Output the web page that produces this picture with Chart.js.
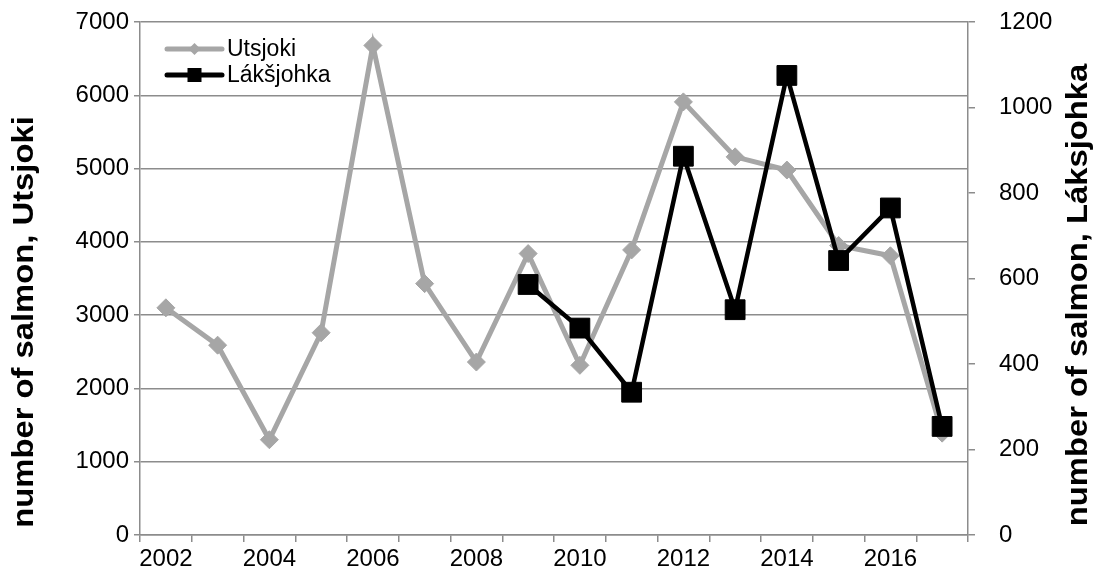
<!DOCTYPE html>
<html lang="en">
<head>
  <meta charset="UTF-8">
  <title>Salmon counts</title>
  <script src="https://cdn.jsdelivr.net/npm/chart.js"></script>
  <style>
    body { margin: 0; background: #fff; }
    #wrap { position: relative; width: 1093px; height: 580px; }
  </style>
</head>
<body>
  <div id="wrap"><canvas id="chartSalmon" width="1093" height="580"></canvas></div>

<script>
  // dados
  var anos = ["2002", "2003", "2004", "2005", "2006", "2007", "2008", "2009",
    "2010", "2011", "2012", "2013", "2014", "2015", "2016", "2017"];
  var utsjoki = [3100, 2590, 1300, 2760, 6680, 3430, 2360, 3840,
    2315, 3890, 5910, 5160, 4980, 3950, 3810, 1390];
  var laksjohka = [null, null, null, null, null, null, null, 586,
    484, 334, 886, 527, 1075, 642, 765, 254];

  var nomeUtsjoki = "Utsjoki";
  var nomeLaksjohka = "Lákšjohka";
  var tituloEsq = "number of salmon, Utsjoki";
  var tituloDir = "number of salmon, Láksjohka";

  var cinza = "#a6a6a6";
  var linhaGrade = "#8c8c8c";
  var fonte = "'Liberation Sans', Arial, sans-serif";

  // legenda dentro da área do gráfico, com linha e marcador
  var legendaInterna = {
    id: "legendaInterna",
    afterDraw: function (chart) {
      var ctx = chart.ctx;
      var area = chart.chartArea;
      var itens = [
        { texto: nomeUtsjoki, cor: cinza, marca: "losango", y: area.top + 27 },
        { texto: nomeLaksjohka, cor: "#000", marca: "quadrado", y: area.top + 53 }
      ];
      ctx.save();
      itens.forEach(function (item) {
        var x0 = area.left + 27;
        var x1 = x0 + 55;
        ctx.strokeStyle = item.cor;
        ctx.lineWidth = 5;
        ctx.lineCap = "round";
        ctx.beginPath();
        ctx.moveTo(x0, item.y);
        ctx.lineTo(x1, item.y);
        ctx.stroke();
        var xm = (x0 + x1) / 2;
        ctx.fillStyle = item.cor;
        if (item.marca == "losango") {
          ctx.beginPath();
          ctx.moveTo(xm, item.y - 6);
          ctx.lineTo(xm + 6, item.y);
          ctx.lineTo(xm, item.y + 6);
          ctx.lineTo(xm - 6, item.y);
          ctx.closePath();
          ctx.fill();
        } else {
          ctx.fillRect(xm - 7, item.y - 7, 14, 14);
        }
        ctx.fillStyle = "#000";
        ctx.font = "23px " + fonte;
        ctx.textAlign = "left";
        ctx.textBaseline = "middle";
        ctx.fillText(item.texto, x1 + 5, item.y + 1);
      });
      ctx.restore();
    }
  };

  // títulos dos eixos, ambos lidos de baixo para cima
  var titulosEixos = {
    id: "titulosEixos",
    afterDraw: function (chart) {
      var ctx = chart.ctx;
      var titulos = [
        { texto: tituloEsq, x: 25, y: 322 },
        { texto: tituloDir, x: 1079, y: 295 }
      ];
      ctx.save();
      ctx.font = "bold 29px " + fonte;
      ctx.fillStyle = "#000";
      ctx.textAlign = "center";
      ctx.textBaseline = "middle";
      titulos.forEach(function (t) {
        ctx.save();
        ctx.translate(t.x, t.y);
        ctx.rotate(-Math.PI / 2);
        ctx.scale(1.13, 1); // o texto original é um pouco esticado
        ctx.fillText(t.texto, 0, 0);
        ctx.restore();
      });
      ctx.restore();
    }
  };

  function semSeparador(valor) {
    return String(valor);
  }

  // largura fixa e sem folga extra em cima/baixo
  function ajustarEixo(largura) {
    return function (escala) {
      escala.width = largura;
      escala.paddingTop = 0;
      escala.paddingBottom = 0;
    };
  }

  var canva = document.getElementById("chartSalmon");
  var grafico = new Chart(canva, {
    type: "line",
    data: {
      labels: anos,
      datasets: [{
        label: nomeUtsjoki,
        data: utsjoki,
        yAxisID: "y",
        borderColor: cinza,
        backgroundColor: cinza,
        borderWidth: 5,
        pointStyle: "rectRot",
        pointRadius: 9,
        pointBorderWidth: 1,
        tension: 0,
        order: 2
      },
      {
        label: nomeLaksjohka,
        data: laksjohka,
        yAxisID: "y1",
        borderColor: "#000",
        backgroundColor: "#000",
        borderWidth: 4.5,
        pointStyle: "rect",
        pointRadius: 14,
        pointBorderWidth: 1,
        tension: 0,
        order: 1
      }]
    },
    options: {
      responsive: false,
      animation: false,
      layout: { padding: { top: 22, left: 0, right: 0, bottom: 0 } },
      plugins: {
        legend: { display: false },
        tooltip: { enabled: false }
      },
      scales: {
        x: {
          offset: true,
          grid: {
            offset: true,
            drawOnChartArea: false,
            drawTicks: true,
            tickLength: 7,
            color: linhaGrade,
            lineWidth: 1.5
          },
          border: { display: true, color: linhaGrade, width: 1.5 },
          ticks: {
            autoSkip: false,
            maxRotation: 0,
            color: "#000",
            padding: 3,
            font: { family: fonte, size: 24 },
            callback: function (valor, indice) {
              return indice % 2 == 0 ? anos[indice] : "";
            }
          },
          afterFit: function (escala) {
            escala.height = 45;
            escala.paddingLeft = 0;
            escala.paddingRight = 0;
          }
        },
        y: {
          position: "left",
          min: 0,
          max: 7000,
          grid: {
            color: linhaGrade,
            lineWidth: 1.5,
            tickLength: 6
          },
          border: { display: true, color: linhaGrade, width: 1.5 },
          ticks: {
            stepSize: 1000,
            color: "#000",
            padding: 5,
            font: { family: fonte, size: 24 },
            callback: semSeparador
          },
          afterFit: ajustarEixo(140)
        },
        y1: {
          position: "right",
          min: 0,
          max: 1200,
          grid: {
            drawOnChartArea: false,
            color: linhaGrade,
            lineWidth: 1.5,
            tickLength: 7
          },
          border: { display: true, color: linhaGrade, width: 1.5 },
          ticks: {
            stepSize: 200,
            color: "#000",
            padding: 24,
            font: { family: fonte, size: 24 },
            callback: semSeparador
          },
          afterFit: ajustarEixo(125)
        }
      }
    },
    plugins: [legendaInterna, titulosEixos]
  });
</script>
</body>
</html>
